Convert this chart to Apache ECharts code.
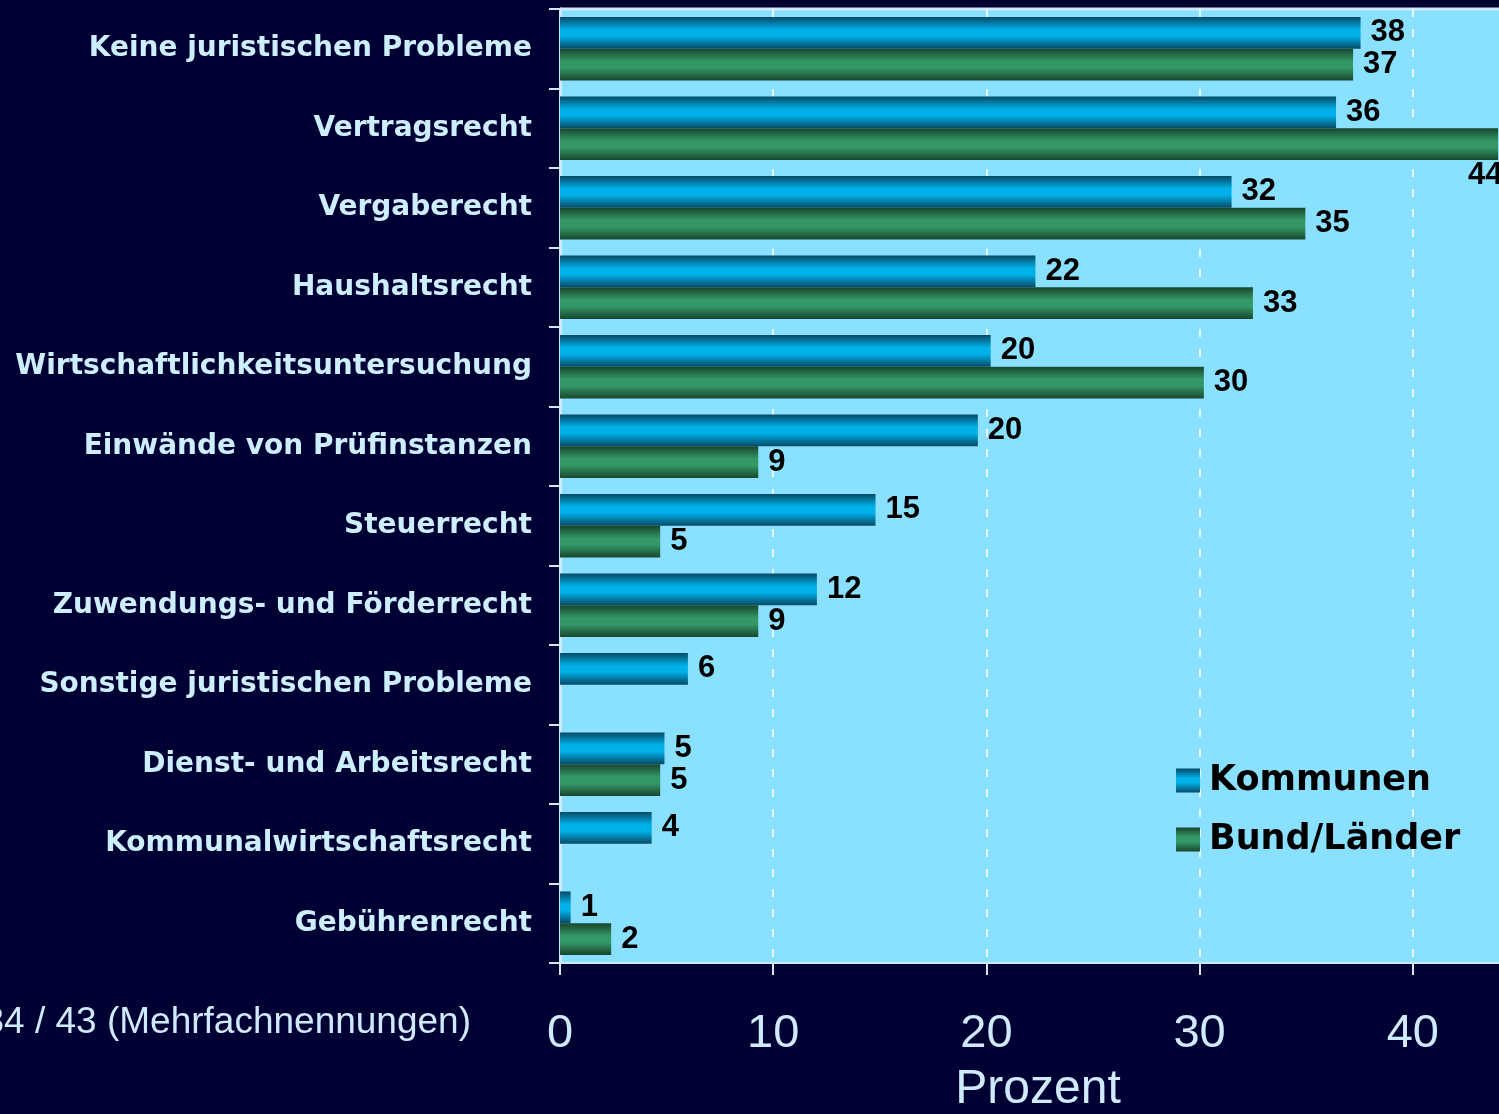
<!DOCTYPE html>
<html lang="de">
<head>
    <meta charset="utf-8" />
    <title>Juristische Probleme</title>
    <script src="https://cdn.jsdelivr.net/npm/echarts@6/dist/echarts.min.js"></script>
    <style>
        html, body { margin: 0; padding: 0; background: #000033; }
        #main { width: 1499px; height: 1114px; }
    </style>
</head>
<body>
    <div id="main"></div>
    <script type="text/javascript">
        // Kategorien von oben nach unten
        var categories = [
            'Keine juristischen Probleme',
            'Vertragsrecht',
            'Vergaberecht',
            'Haushaltsrecht',
            'Wirtschaftlichkeitsuntersuchung',
            'Einwände von Prüfinstanzen',
            'Steuerrecht',
            'Zuwendungs- und Förderrecht',
            'Sonstige juristischen Probleme',
            'Dienst- und Arbeitsrecht',
            'Kommunalwirtschaftsrecht',
            'Gebührenrecht'
        ];
        // Prozentwerte (Balkenlängen, Beschriftung gerundet)
        var kommunen = [37.55, 36.4, 31.5, 22.3, 20.2, 19.6, 14.8, 12.05, 6.0, 4.9, 4.3, 0.5];
        var bundLaender = [37.2, 44.0, 34.96, 32.5, 30.2, 9.3, 4.7, 9.3, null, 4.7, null, 2.4];
        var xTicks = [0, 10, 20, 30, 40, 50];
        var axisTitle = 'Prozent';
        var footNote = 'n = 34 / 43 (Mehrfachnennungen)';

        function grad(dark, light) {
            return new echarts.graphic.LinearGradient(0, 0, 0, 1, [
                { offset: 0, color: dark },
                { offset: 0.4, color: light },
                { offset: 0.6, color: light },
                { offset: 1, color: dark }
            ]);
        }
        var blue = grad('#074a66', '#00b0e8');
        var green = grad('#18452d', '#349866');

        var labelStyle = {
            show: true,
            position: 'right',
            distance: 10,
            color: '#000',
            fontFamily: 'Liberation Sans, Arial, sans-serif',
            fontWeight: 'bold',
            fontSize: 31,
            formatter: function (p) { return Math.round(p.value); }
        };

        // der 44er-Balken reicht bis an den Rand, Wert steht darunter
        var greenData = bundLaender.map(function (v) {
            if (v !== null && v > 40) {
                return { value: v, label: { offset: [-40, 31] } };
            }
            return v;
        });

        var myChart = echarts.init(document.getElementById('main'));
        var option = {
            backgroundColor: '#000033',
            animation: false,
            grid: {
                left: 560,
                top: 9,
                width: 1066,
                bottom: 151,
                containLabel: false,
                outerBoundsMode: 'none',
                show: true,
                backgroundColor: '#8ae1ff',
                borderWidth: 0
            },
            legend: {
                orient: 'vertical',
                left: 1171,
                top: 758,
                itemWidth: 24,
                itemHeight: 24,
                itemGap: 24,
                icon: 'rect',
                data: ['Kommunen', 'Bund/Länder'],
                textStyle: {
                    color: '#000',
                    fontFamily: 'DejaVu Sans, Verdana, sans-serif',
                    fontWeight: 'bold',
                    fontSize: 35,
                    padding: [0, 0, 0, 4]
                }
            },
            xAxis: {
                type: 'value',
                min: xTicks[0],
                max: xTicks[xTicks.length - 1],
                interval: 10,
                axisLine: { show: true, lineStyle: { color: '#cfeaff', width: 2 } },
                axisTick: { show: true, length: 12, lineStyle: { color: '#cfeaff', width: 2 } },
                axisLabel: {
                    color: '#cfeaff',
                    fontFamily: 'Liberation Sans, Arial, sans-serif',
                    fontSize: 47,
                    margin: 48
                },
                splitLine: { show: true, lineStyle: { color: '#e6f7ff', type: [8, 12], width: 2 } }
            },
            yAxis: {
                type: 'category',
                inverse: true,
                data: categories,
                axisLine: { show: true, lineStyle: { color: '#cfeaff', width: 3 } },
                axisTick: { show: true, length: 11, lineStyle: { color: '#cfeaff', width: 2 } },
                axisLabel: {
                    color: '#cceeff',
                    fontFamily: 'DejaVu Sans, Verdana, sans-serif',
                    fontWeight: 'bold',
                    fontSize: 28,
                    margin: 28,
                    padding: [7, 0, 0, 0]
                }
            },
            graphic: [
                {
                    type: 'line',
                    shape: { x1: 560, y1: 9, x2: 1499, y2: 9 },
                    style: { stroke: '#cfeaff', lineWidth: 3 }
                },
                {
                    type: 'text',
                    x: 1038,
                    y: 1090,
                    style: {
                        text: axisTitle,
                        fill: '#cfeaff',
                        align: 'center',
                        verticalAlign: 'middle',
                        font: '48px "Liberation Sans", Arial, sans-serif'
                    }
                },
                {
                    type: 'text',
                    x: 471,
                    y: 1023,
                    style: {
                        text: footNote,
                        fill: '#cfeaff',
                        align: 'right',
                        verticalAlign: 'middle',
                        font: '37px "Liberation Sans", Arial, sans-serif'
                    }
                }
            ],
            series: [
                {
                    name: 'Kommunen',
                    type: 'bar',
                    data: kommunen,
                    barGap: '0%',
                    barCategoryGap: '20%',
                    itemStyle: { color: blue },
                    label: labelStyle
                },
                {
                    name: 'Bund/Länder',
                    type: 'bar',
                    data: greenData,
                    barGap: '0%',
                    barCategoryGap: '20%',
                    itemStyle: { color: green },
                    label: labelStyle
                }
            ]
        };
        myChart.setOption(option);
    </script>
</body>
</html>
